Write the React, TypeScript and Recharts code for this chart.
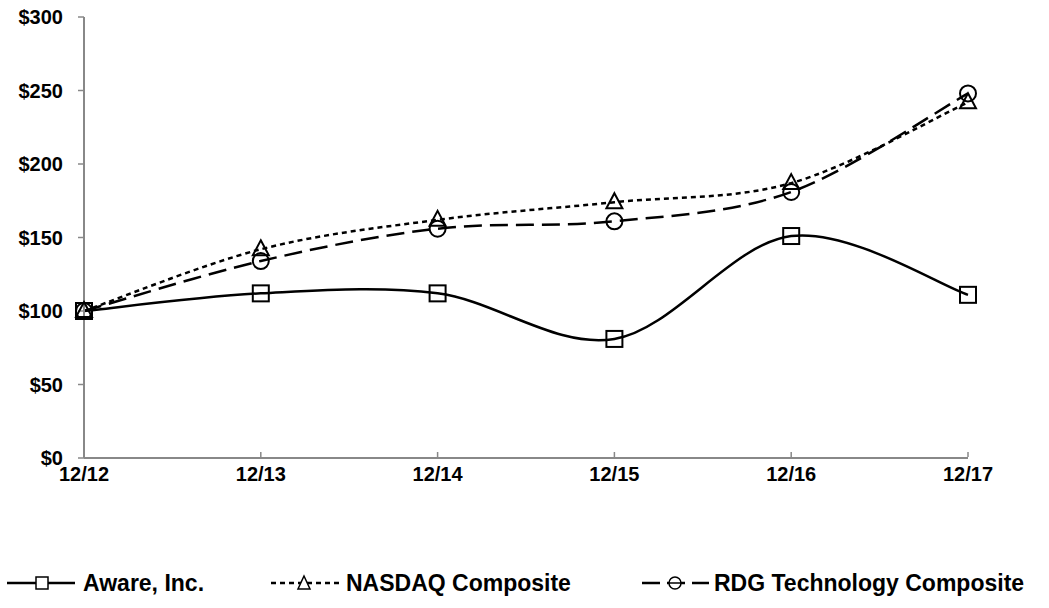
import React from 'react';
import { LineChart, Line, XAxis, YAxis } from 'recharts';

const periods = ['12/12', '12/13', '12/14', '12/15', '12/16', '12/17'];
const aware = [100, 112, 112, 81, 151, 111];
const nasdaq = [100, 142, 162, 174, 187, 242];
const rdg = [100, 134, 156, 161, 181, 248];
const yTicks = [0, 50, 100, 150, 200, 250, 300];

const data = periods.map((p, i) => ({ period: p, aware: aware[i], nasdaq: nasdaq[i], rdg: rdg[i] }));

const FONT = '"Liberation Sans", Arial, sans-serif';
const AXIS = '#888888';

// Catmull-Rom style smoothing, close to the spreadsheet's smoothed lines
const smoothCurve = (ctx: any) => {
  let pts: [number, number][] = [];
  return {
    areaStart() {},
    areaEnd() {},
    lineStart() {
      pts = [];
    },
    point(x: number, y: number) {
      pts.push([+x, +y]);
    },
    lineEnd() {
      if (!pts.length) return;
      ctx.moveTo(pts[0][0], pts[0][1]);
      for (let i = 0; i < pts.length - 1; i++) {
        const p0 = pts[Math.max(i - 1, 0)];
        const p1 = pts[i];
        const p2 = pts[i + 1];
        const p3 = pts[Math.min(i + 2, pts.length - 1)];
        ctx.bezierCurveTo(
          p1[0] + (p2[0] - p0[0]) / 6,
          p1[1] + (p2[1] - p0[1]) / 6,
          p2[0] - (p3[0] - p1[0]) / 6,
          p2[1] - (p3[1] - p1[1]) / 6,
          p2[0],
          p2[1]
        );
      }
    },
  };
};

const SquareDot = (props: any) => {
  const { cx, cy, index } = props;
  return <rect key={`sq-${index}`} x={cx - 8} y={cy - 8} width={16} height={16} fill="none" stroke="#000" strokeWidth={2} />;
};

const TriangleDot = (props: any) => {
  const { cx, cy, index } = props;
  return (
    <path
      key={`tr-${index}`}
      d={`M${cx},${cy - 9} L${cx + 8},${cy + 6} L${cx - 8},${cy + 6} Z`}
      fill="none"
      stroke="#000"
      strokeWidth={2}
    />
  );
};

const CircleDot = (props: any) => {
  const { cx, cy, index } = props;
  return <circle key={`ci-${index}`} cx={cx} cy={cy} r={8} fill="none" stroke="#000" strokeWidth={2} />;
};

const XTick = (props: any) => {
  const { x, y, payload } = props;
  return (
    <g>
      <line x1={x} y1={y - 1} x2={x} y2={y - 6} stroke={AXIS} strokeWidth={1.5} />
      <text x={x} y={y + 23} textAnchor="middle" fontSize={20} fontWeight="bold" fontFamily={FONT} fill="#000">
        {payload.value}
      </text>
    </g>
  );
};

function LegendRow() {
  const ty = 591;
  return (
    <svg width={1049} height={608} style={{ position: 'absolute', left: 0, top: 0, pointerEvents: 'none' }}>
      <g stroke="#000" strokeWidth={2.5} fill="none">
        <line x1={7} y1={583} x2={75} y2={583} />
        <rect x={36} y={577} width={12} height={12} fill="#fff" strokeWidth={1.5} />
        <line x1={271} y1={583} x2={342} y2={583} strokeDasharray="5 4" />
        <path d="M304,576 L310,589 L298,589 Z" fill="#fff" strokeWidth={1.5} />
        <line x1={642} y1={583} x2={709} y2={583} strokeDasharray="18 7" />
        <circle cx={675} cy={583} r={6} fill="#fff" strokeWidth={1.5} />
        <line x1={669} y1={583} x2={681} y2={583} strokeWidth={1.5} />
      </g>
      <g fontFamily={FONT} fontWeight="bold" fontSize={23} fill="#000">
        <text x={83} y={ty}>Aware, Inc.</text>
        <text x={346} y={ty}>NASDAQ Composite</text>
        <text x={714} y={ty}>RDG Technology Composite</text>
      </g>
    </svg>
  );
}

export default function App() {
  return (
    <div style={{ position: 'absolute', left: 0, top: 0, width: 1049, height: 608, background: '#fff' }}>
      <LineChart width={1049} height={608} data={data} margin={{ top: 17, right: 81, left: 0, bottom: 120 }}>
        <XAxis
          dataKey="period"
          height={30}
          axisLine={{ stroke: AXIS, strokeWidth: 2 }}
          tickLine={false}
          tickSize={0}
          tickMargin={0}
          tick={<XTick />}
          interval={0}
        />
        <YAxis
          width={84}
          domain={[0, 300]}
          ticks={yTicks}
          interval={0}
          axisLine={{ stroke: AXIS, strokeWidth: 2 }}
          tickLine={{ stroke: AXIS, strokeWidth: 1.5 }}
          tickSize={6}
          tickMargin={15}
          tickFormatter={(v: number) => `$${v}`}
          tick={{ fontSize: 20, fontWeight: 'bold', fontFamily: FONT, fill: '#000' }}
        />
        <Line
          dataKey="rdg"
          type={smoothCurve as any}
          stroke="#000"
          strokeWidth={2.5}
          strokeDasharray="18 8"
          dot={CircleDot}
          activeDot={false}
          isAnimationActive={false}
        />
        <Line
          dataKey="nasdaq"
          type={smoothCurve as any}
          stroke="#000"
          strokeWidth={2.5}
          strokeDasharray="5 4"
          dot={TriangleDot}
          activeDot={false}
          isAnimationActive={false}
        />
        <Line
          dataKey="aware"
          type={smoothCurve as any}
          stroke="#000"
          strokeWidth={2.5}
          dot={SquareDot}
          activeDot={false}
          isAnimationActive={false}
        />
      </LineChart>
      <LegendRow />
    </div>
  );
}
